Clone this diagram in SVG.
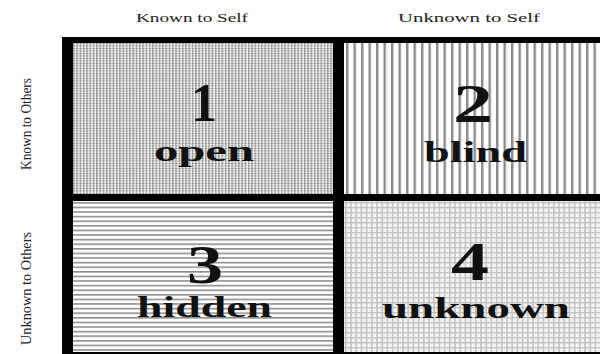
<svg xmlns="http://www.w3.org/2000/svg" width="600" height="354" viewBox="0 0 600 354">
<style>
.hdr{font-family:"Liberation Serif","Times New Roman",serif;font-size:13px;fill:#222}
.side{font-family:"Liberation Serif","Times New Roman",serif;font-size:15px;fill:#222}
.num{font-family:"Liberation Serif","Times New Roman",serif;font-size:54px;font-weight:bold;fill:#111;text-anchor:middle}
.word{font-family:"Liberation Serif","Times New Roman",serif;font-size:30px;font-weight:bold;fill:#111}
</style>
<defs>
<pattern id="pDots" patternUnits="userSpaceOnUse" x="73" y="43" width="3.3" height="2.5">
<rect width="3.3" height="2.5" fill="#ededed"/>
<rect x="0" y="0" width="1.2" height="2.5" fill="#ababab"/>
<rect x="0" y="0" width="2" height="0.9" fill="#7c7c7c"/>
</pattern>
<pattern id="pVert" patternUnits="userSpaceOnUse" x="346" y="0" width="7.5" height="10">
<rect width="7.5" height="10" fill="#ffffff"/>
<rect x="0" y="0" width="2.4" height="10" fill="#8a8a8a"/>
</pattern>
<pattern id="pHoriz" patternUnits="userSpaceOnUse" x="0" y="202" width="10" height="4.6">
<rect width="10" height="4.6" fill="#ffffff"/>
<rect x="0" y="0" width="10" height="1.6" fill="#8e8e8e"/>
</pattern>
<pattern id="pGrid" patternUnits="userSpaceOnUse" x="345" y="202" width="5.2" height="5">
<rect width="5.2" height="5" fill="#f4f4f4"/>
<rect x="0" y="0" width="1.6" height="5" fill="#c4c4c4"/>
<rect x="0" y="0" width="5.2" height="1.4" fill="#c4c4c4"/>
</pattern>
</defs>
<rect width="600" height="354" fill="#ffffff"/>

<g id="headers">
<text class="hdr" x="136" y="22" textLength="112" lengthAdjust="spacingAndGlyphs">Known to Self</text>
<text class="hdr" x="398" y="22" textLength="142" lengthAdjust="spacingAndGlyphs">Unknown to Self</text>
<text class="side" transform="translate(31,170) rotate(-90)" textLength="92" lengthAdjust="spacingAndGlyphs">Known to Others</text>
<text class="side" transform="translate(31,345) rotate(-90)" textLength="113" lengthAdjust="spacingAndGlyphs">Unknown to Others</text>
</g>

<g id="frame">
<rect x="62" y="37" width="538" height="317" fill="#000"/>
</g>

<g id="q1-open">
<rect x="73" y="43" width="260" height="151" fill="url(#pDots)"/>
<text class="num" x="204" y="121" textLength="26" lengthAdjust="spacingAndGlyphs">1</text>
<text class="word" x="154" y="161" textLength="100" lengthAdjust="spacingAndGlyphs">open</text>
</g>

<g id="q2-blind">
<rect x="344" y="43" width="256" height="151" fill="url(#pVert)"/>
<text class="num" x="473" y="122" textLength="40" lengthAdjust="spacingAndGlyphs">2</text>
<text class="word" x="424" y="162" textLength="103" lengthAdjust="spacingAndGlyphs">blind</text>
</g>

<g id="q3-hidden">
<rect x="73" y="201" width="260" height="151" fill="url(#pHoriz)"/>
<text class="num" x="205" y="283" textLength="36" lengthAdjust="spacingAndGlyphs">3</text>
<text class="word" x="137" y="317" textLength="135" lengthAdjust="spacingAndGlyphs">hidden</text>
</g>

<g id="q4-unknown">
<rect x="344" y="201" width="256" height="151" fill="url(#pGrid)"/>
<text class="num" x="470" y="280" textLength="38" lengthAdjust="spacingAndGlyphs">4</text>
<text class="word" x="382" y="318" textLength="188" lengthAdjust="spacingAndGlyphs">unknown</text>
</g>
</svg>
